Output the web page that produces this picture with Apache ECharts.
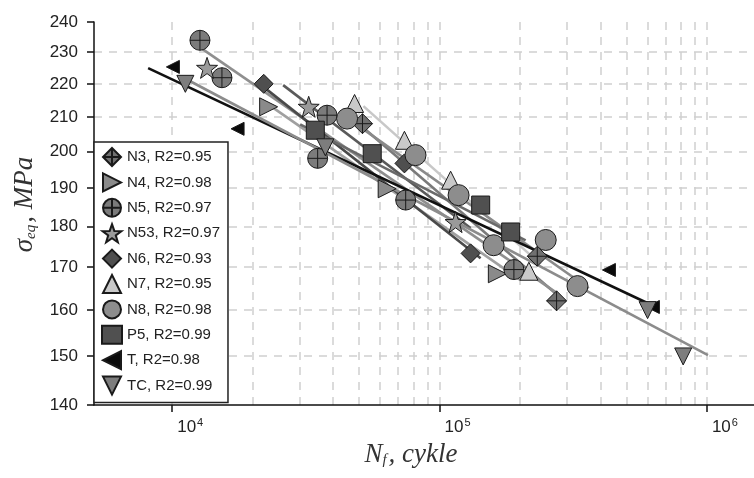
<!DOCTYPE html>
<html>
<head>
<meta charset="utf-8">
<script src="https://cdn.jsdelivr.net/npm/echarts@6/dist/echarts.min.js"></script>
<style>
  html, body { margin: 0; padding: 0; background: #fff; }
  .box { width: 754px; height: 478px; }
</style>
</head>
<body>
<div class="box"></div>
<script>
const chartDom = document.getElementsByClassName('box')[0];
const myChart = echarts.init(chartDom);

// series names as in the legend
const names = ['N3, R2=0.95', 'N4, R2=0.98', 'N5, R2=0.97', 'N53, R2=0.97', 'N6, R2=0.93',
    'N7, R2=0.95', 'N8, R2=0.98', 'P5, R2=0.99', 'T, R2=0.98', 'TC, R2=0.99'];

// measured points [N cycles, sigma MPa]
const n3Pts = [[51500, 208], [232000, 172.6], [274000, 162.1]];
const n4Pts = [[22950, 213], [63700, 189.8], [164500, 168.4]];
const n5Pts = [[12700, 233.9], [15350, 221.9], [35000, 198.1], [37950, 210.5], [74700, 186.8], [189700, 169.4]];
const n53Pts = [[13500, 225], [32400, 213], [114800, 181.1]];
const n6Pts = [[22000, 220], [73900, 196.7], [130600, 173.3]];
const n7Pts = [[48100, 214], [73900, 203.2], [110000, 192.1], [215800, 169]];
const n8Pts = [[45100, 209.5], [81300, 199], [117800, 188.1], [159300, 175.3], [249500, 176.6], [328000, 165.5]];
const p5Pts = [[34300, 206.1], [56000, 199.4], [142500, 185.5], [184500, 178.6]];
const tPts = [[10060, 225.3], [17560, 206.5], [430000, 169.3], [628000, 160.7]];
const tcPts = [[11200, 220], [37400, 201.2], [600000, 160], [815000, 149.9]];

// fitted lines, end points
const n3Fit = [[47200, 209.6], [296500, 161.8]];
const n4Fit = [[21700, 215.0], [201000, 166.9]];
const n5Fit = [[11900, 233.3], [271600, 164.1]];
const n53Fit = [[26000, 219.6], [130600, 179.6]];
const n6Fit = [[22300, 218.6], [142400, 172.1]];
const n7Fit = [[51900, 213.2], [238800, 170.7]];
const n8Fit = [[42600, 211.1], [361400, 165.0]];
const p5Fit = [[30100, 207.8], [209900, 176.5]];
const tFit = [[8130, 224.9], [644000, 160.7]];
const tcFit = [[11680, 220.8], [1009000, 150.2]];

// axis ticks
const yTicks = [140, 150, 160, 170, 180, 190, 200, 210, 220, 230, 240];
const yGrid = [150, 160, 170, 180, 190, 200, 210, 220, 230];
const xTicks = [10000, 100000, 1000000];
const xGrid = [10000, 20000, 30000, 40000, 50000, 60000, 70000, 80000, 90000,
    100000, 200000, 300000, 400000, 500000, 600000, 700000, 800000, 900000, 1000000];

const crossDiamond = 'path://M10,0L20,10L10,20L0,10Z M10,0L10,20 M0,10L20,10';
const crossCircle = 'path://M0,10A10,10 0 1 1 20,10A10,10 0 1 1 0,10Z M10,0L10,20 M0,10L20,10';
const star = 'path://M10,0L12.35,6.76L19.51,6.91L13.8,11.24L15.88,18.09L10,14L4.12,18.09L6.2,11.24L0.49,6.91L7.65,6.76Z';
const triRight = 'path://M0,0L20,10L0,20Z';
const triLeft = 'path://M20,0L0,10L20,20Z';
const triDown = 'path://M0,0L20,0L10,20Z';
const triUp = 'path://M10,0L20,20L0,20Z';
const diamond = 'path://M10,0L20,10L10,20L0,10Z';

const scatterDefs = [
    [n3Pts, crossDiamond, 20, '#707070'],
    [n4Pts, triRight, 18, '#8a8a8a'],
    [n5Pts, crossCircle, 20, '#7b7b7b'],
    [n53Pts, star, 21, '#9a9a9a'],
    [n6Pts, diamond, 19, '#4f4f4f'],
    [n7Pts, triUp, 18, '#c9c9c9'],
    [n8Pts, 'circle', 21, '#8d8d8d'],
    [p5Pts, 'rect', 18, '#505050'],
    [tPts, triLeft, 13, '#0a0a0a'],
    [tcPts, triDown, 17, '#7d7d7d']
];
const fitDefs = [
    [n3Fit, '#7a7a7a'], [n4Fit, '#a0a0a0'], [n5Fit, '#8f8f8f'], [n53Fit, '#5a5a5a'],
    [n6Fit, '#4a4a4a'], [n7Fit, '#c8c8c8'], [n8Fit, '#8a8a8a'], [p5Fit, '#6a6a6a'],
    [tFit, '#111111'], [tcFit, '#8c8c8c']
];

const series = [];
fitDefs.forEach(function (d, i) {
    series.push({
        name: names[i] + ' fit',
        type: 'line',
        data: d[0],
        showSymbol: false,
        silent: true,
        z: 2,
        lineStyle: { color: d[1], width: 2.6 }
    });
});
scatterDefs.forEach(function (d, i) {
    series.push({
        name: names[i],
        type: 'scatter',
        data: d[0],
        symbol: d[1],
        symbolSize: d[2],
        z: 3,
        itemStyle: { color: d[3], borderColor: '#1a1a1a', borderWidth: 1, opacity: 1 }
    });
});

const gridLine = { show: true, lineStyle: { color: '#cfcfcf', width: 1.5, type: [8, 7] } };
const serif = 'Liberation Serif';

const option = {
    animation: false,
    grid: { left: 94, right: 0, top: 22, bottom: 73, containLabel: false, outerBoundsMode: 'none' },
    legend: {
        data: names,
        orient: 'vertical',
        left: 94,
        top: 142,
        itemWidth: 20,
        itemHeight: 18,
        itemGap: 5.4,
        padding: [5, 8, 7, 7],
        borderColor: '#222',
        borderWidth: 1.5,
        backgroundColor: '#fff',
        textStyle: { fontSize: 15, color: '#222', fontFamily: 'Liberation Sans' }
    },
    xAxis: [
        {
            type: 'log', logBase: 10, min: 5100, max: 1500000, position: 'bottom',
            axisLine: { show: false },
            axisTick: { show: false, customValues: xGrid },
            axisLabel: { show: false, customValues: xGrid },
            splitLine: gridLine
        },
        {
            type: 'log', logBase: 10, min: 5100, max: 1500000, position: 'bottom',
            axisLine: { show: true, lineStyle: { color: '#111', width: 1.5 } },
            axisTick: { show: true, customValues: xTicks, length: 7, lineStyle: { color: '#111', width: 1.5 } },
            axisLabel: {
                customValues: xTicks,
                margin: 12,
                align: 'left',
                padding: [0, 0, 0, 5],
                color: '#222',
                fontFamily: 'Liberation Sans',
                fontSize: 17,
                formatter: function (v) {
                    return '10{sup|' + Math.round(Math.log10(v)) + '}';
                },
                rich: { sup: { fontSize: 11, fontFamily: 'Liberation Sans', color: '#222', padding: [0, 0, 10, 1] } }
            },
            splitLine: { show: false },
            name: '{i|N}{sub|f}{i|, cykle}',
            nameLocation: 'middle',
            nameGap: 36,
            nameTextStyle: {
                padding: [0, 26, 0, 0],
                rich: {
                    i: { fontFamily: serif, fontStyle: 'italic', fontSize: 27, color: '#333' },
                    sub: { fontFamily: serif, fontStyle: 'italic', fontSize: 15, color: '#333', padding: [12, 2, 0, 0] }
                }
            }
        }
    ],
    yAxis: [
        {
            type: 'log', logBase: 10, min: 140, max: 240, position: 'left',
            axisLine: { show: true, lineStyle: { color: '#111', width: 1.5 } },
            axisTick: { show: true, customValues: yTicks, length: 7, lineStyle: { color: '#111', width: 1.5 } },
            axisLabel: {
                customValues: yTicks,
                margin: 16,
                color: '#222',
                fontFamily: 'Liberation Sans',
                fontSize: 17
            },
            splitLine: { show: false },
            name: '{i|σ}{sub|eq}{i|, MPa}',
            nameLocation: 'middle',
            nameGap: 50,
            nameTextStyle: {
                padding: [0, 0, 0, 18],
                rich: {
                    i: { fontFamily: serif, fontStyle: 'italic', fontSize: 27, color: '#333' },
                    sub: { fontFamily: serif, fontStyle: 'italic', fontSize: 15, color: '#333', padding: [12, 2, 0, 0] }
                }
            }
        },
        {
            type: 'log', logBase: 10, min: 140, max: 240, position: 'left',
            axisLine: { show: false },
            axisTick: { show: false, customValues: yGrid },
            axisLabel: { show: false, customValues: yGrid },
            splitLine: gridLine
        }
    ],
    series: series
};

myChart.setOption(option);
</script>
</body>
</html>
